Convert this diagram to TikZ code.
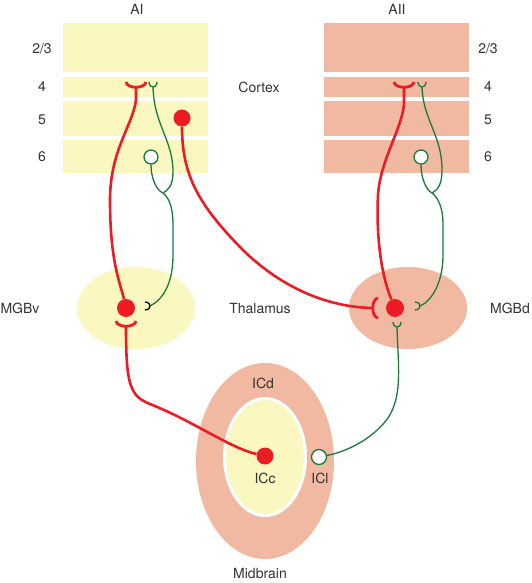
\documentclass[tikz,border=0pt]{standalone}
\usepackage{fontspec}
\setmainfont{TeX Gyre Heros}
\usetikzlibrary{shapes.geometric}

\definecolor{paleyellow}{HTML}{FAF7C0}
\definecolor{salmon}{HTML}{F2B9A2}
\definecolor{axonred}{HTML}{ED1C24}
\definecolor{axongreen}{HTML}{1B7A3A}
\definecolor{labelgray}{HTML}{333333}

\tikzset{
  redaxon/.style={axonred, line width=2.6pt},
  greenaxon/.style={axongreen, line width=1.3pt},
  redcell/.style={circle, fill=axonred, inner sep=0pt, minimum size=18pt},
  opencell/.style={circle, draw=axongreen, fill=white, line width=1.3pt, inner sep=0pt, minimum size=14pt},
  region/.style={ellipse, inner sep=0pt},
  lbl/.style={text=labelgray, font=\fontsize{14}{16}\selectfont},
  cup/.pic={\draw[axonred, line width=2.8pt] (-10,-6) .. controls (-9,1) and (9,1) .. (10,-6);},
  fork/.pic={\draw[line width=1.3pt] (-4,-5) .. controls (-4,-1) and (-1,0) .. (0,0) .. controls (1,0) and (4,-1) .. (4,-5);}
}

\begin{document}
\begin{tikzpicture}[x=1pt, y=-1pt]
  \useasboundingbox (0,0) rectangle (531,583);

  % Cortex layers
  \foreach \top/\bot in {23/72, 77/97, 101/136, 140/173} {
    \fill[paleyellow] (63,\top) rectangle (208,\bot);
    \fill[salmon] (324,\top) rectangle (469,\bot);
  }
  \foreach \lay/\ypos in {{2/3}/49, 4/87, 5/120, 6/157} {
    \node[lbl] at (42,\ypos) {\lay};
    \node[lbl] at (488,\ypos) {\lay};
  }

  % Define regions
  \node[region, fill=paleyellow, minimum width=118pt, minimum height=82pt] (mgbv) at (136,308) {};
  \node[region, fill=salmon, minimum width=118pt, minimum height=82pt] (mgbd) at (408,308) {};
  \node[region, fill=salmon, minimum width=138pt, minimum height=196pt] (icd) at (265,461) {};
  \node[region, fill=paleyellow, draw=white, line width=3pt, minimum width=81pt, minimum height=117pt] (icc) at (265,457) {};

  % Labels
  \node[lbl] (aiLabel) at (137,9) {AI};
  \node[lbl] (aiiLabel) at (397,9) {AII};
  \node[lbl] (cortexLabel) at (259,87) {Cortex};
  \node[lbl] (mgbvLabel) at (20,308) {MGBv};
  \node[lbl] (thalamusLabel) at (260,308) {Thalamus};
  \node[lbl] (mgbdLabel) at (510,308) {MGBd};
  \node[lbl] (icdLabel) at (263,383) {ICd};
  \node[lbl] (iccLabel) at (265,478) {ICc};
  \node[lbl] (iclLabel) at (320,478) {ICl};
  \node[lbl] (midbrainLabel) at (260,573) {Midbrain};

  % Define nodes
  \node[redcell, minimum size=17pt] (l5AI) at (182,118) {};
  \node[opencell] (l6AI) at (151,157) {};
  \node[opencell] (l6AII) at (421,157) {};
  \node[redcell] (vCell) at (126,308) {};
  \node[redcell] (dCell) at (395,308) {};
  \node[redcell, minimum size=17pt] (iccCell) at (265,456) {};

  \coordinate (cupAI) at (136,88);
  \coordinate (cupAII) at (404,88);
  \coordinate (forkAI) at (153,87);
  \coordinate (forkAII) at (422,87);
  \coordinate (jAI) at (163,193);
  \coordinate (jAII) at (432,193);
  \coordinate (forkV) at (150,306);
  \coordinate (forkD) at (420,306);
  \coordinate (cupD) at (372,308);
  \coordinate (cupV) at (126,327);
  \coordinate (forkDb) at (397,327);

  % Draw edges
  \draw[redaxon] (cupAI) -- (136,100) .. controls (133,125) and (110,150) .. (110,200) .. controls (110,262) and (120,282) .. (vCell);
  \draw[redaxon] (l5AI) .. controls (182,175) and (198,205) .. (245,252) .. controls (285,290) and (330,307) .. (cupD);
  \draw[redaxon] (dCell) .. controls (381,275) and (376,235) .. (378,195) .. controls (380,160) and (404,125) .. (404,102) -- (cupAII);
  \draw[redaxon] (cupV) .. controls (126,385) and (130,396) .. (150,404) .. controls (195,422) and (230,448) .. (iccCell);

  \draw[greenaxon] (forkAI) .. controls (154,125) and (173,140) .. (173,172) .. controls (173,186) and (168,190) .. (jAI);
  \draw[greenaxon] (l6AI) .. controls (151,178) and (156,190) .. (jAI);
  \draw[greenaxon] (jAI) .. controls (168,197) and (173,205) .. (173,225) -- (173,255) .. controls (173,285) and (162,300) .. (forkV);

  \draw[greenaxon] (forkAII) .. controls (423,120) and (442,135) .. (442,170) .. controls (442,186) and (437,190) .. (jAII);
  \draw[greenaxon] (l6AII) .. controls (421,178) and (426,190) .. (jAII);
  \draw[greenaxon] (jAII) .. controls (437,197) and (443,205) .. (443,225) -- (443,255) .. controls (443,285) and (430,302) .. (forkD);

  \node[opencell, minimum size=15pt] (iclCell) at (319,457) {};
  \draw[greenaxon] (forkDb) .. controls (398,365) and (403,395) .. (388,418) .. controls (372,440) and (345,452) .. (iclCell);

  % Synapses
  \pic at (cupAI) {cup};
  \pic at (cupAII) {cup};
  \pic at (cupV) {cup};
  \pic[rotate=-90] at (cupD) {cup};
  \pic[axongreen] at (forkAI) {fork};
  \pic[axongreen] at (forkAII) {fork};
  \pic[axongreen] at (forkDb) {fork};
  \pic[axongreen, rotate=90] at (forkD) {fork};
  \pic[black, rotate=90] at (forkV) {fork};

\end{tikzpicture}
\end{document}
